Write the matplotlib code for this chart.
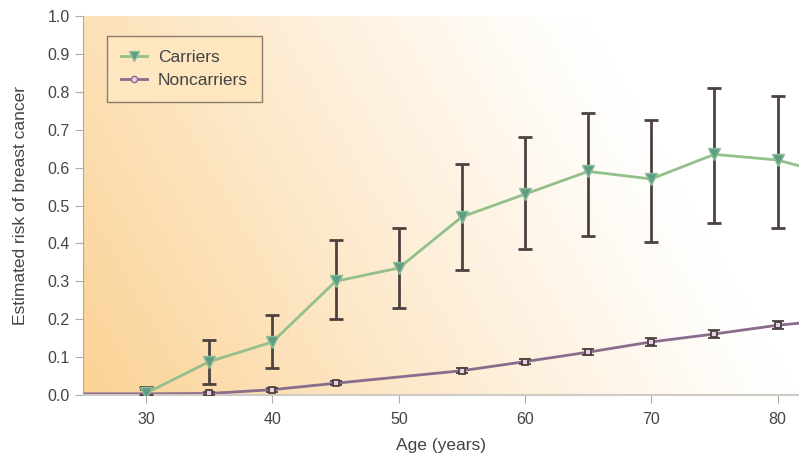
import matplotlib.pyplot as plt
import numpy as np
from matplotlib.lines import Line2D

plt.rcParams['font.family'] = ['Liberation Sans', 'DejaVu Sans']

# Carriers
carrier_age = [30, 35, 40, 45, 50, 55, 60, 65, 70, 75, 80, 85]
carrier_risk = [0.005, 0.088, 0.14, 0.30, 0.335, 0.47, 0.53, 0.59, 0.57, 0.635, 0.62, 0.575]
carrier_low = [0.0, 0.03, 0.07, 0.20, 0.23, 0.33, 0.385, 0.42, 0.405, 0.455, 0.44, 0.40]
carrier_high = [0.02, 0.145, 0.21, 0.41, 0.44, 0.61, 0.68, 0.745, 0.725, 0.81, 0.79, 0.75]

# Noncarriers
non_age = [30, 35, 40, 45, 55, 60, 65, 70, 75, 80, 85]
non_risk = [0.003, 0.004, 0.014, 0.031, 0.064, 0.088, 0.113, 0.14, 0.161, 0.184, 0.20]
non_err = [0.01, 0.004, 0.005, 0.005, 0.006, 0.007, 0.008, 0.01, 0.01, 0.01, 0.01]
line_start_age = 25
line_start_risk = 0.003

fig = plt.figure(figsize=(7.99, 4.58), dpi=100)
ax = fig.add_axes([0.104, 0.1376, 0.896, 0.8274])
ax.set_xlim(25, 81.7)
ax.set_ylim(0, 1.0)

# background: peach on the left fading smoothly to white on the right
gx, gy = np.meshgrid(np.linspace(0, 1, 300), np.linspace(0, 1, 200))
f = np.clip(1.0 - gx * 1.0 - gy * 0.3, 0, 1) ** 1.15
orange = np.array([251, 210, 148]) / 255
white = np.array([1.0, 1.0, 1.0])
img = white[None, None, :] + (orange - white)[None, None, :] * f[:, :, None]
ax.imshow(img, extent=[0, 1, 0, 1], transform=ax.transAxes, origin='lower',
          aspect='auto', zorder=0, interpolation='bilinear')

err_c = '#4d4240'
# noncarriers
ax.plot([line_start_age] + non_age, [line_start_risk] + non_risk,
        color='#8a6c8c', lw=2, zorder=2)
ax.errorbar(non_age, non_risk, yerr=non_err, fmt='s', ms=5,
            mfc='#e8d0e4', mec='#4d4240', mew=1.3, ecolor=err_c,
            elinewidth=1.5, capsize=4, capthick=2, zorder=3)

# carriers
c_low = np.array(carrier_risk) - np.array(carrier_low)
c_high = np.array(carrier_high) - np.array(carrier_risk)
ax.errorbar(carrier_age, carrier_risk, yerr=[c_low, c_high], fmt='none',
            ecolor=err_c, elinewidth=2, capsize=5, capthick=2, zorder=4)
ax.plot(carrier_age, carrier_risk, color='#93c08a', lw=2, zorder=5)
ax.plot(carrier_age, carrier_risk, 'v', ms=9, mfc='#5f9c84',
        mec='#8fbf99', mew=1, zorder=6)

# legend
handles = [
    Line2D([], [], color='#93c08a', lw=2, marker='v', ms=7, mfc='#5f9c84', mec='#8fbf99'),
    Line2D([], [], color='#8a6c8c', lw=2, marker='o', ms=4.5, mfc='#e8d0e4', mec='#8a6c8c'),
]
leg = ax.legend(handles, ['Carriers', 'Noncarriers'], loc='upper left',
                bbox_to_anchor=(0.034, 0.948), frameon=True, fancybox=False,
                fontsize=12.5, handlelength=1.5, borderpad=0.8, labelspacing=0.45,
                handletextpad=0.6, borderaxespad=0, labelcolor='#444444')
leg.get_frame().set_facecolor('#fde6c0')
leg.get_frame().set_edgecolor('#8c7c6c')
leg.get_frame().set_linewidth(1.0)
leg.get_frame().set_alpha(1)

for s in ['top', 'right']:
    ax.spines[s].set_visible(False)
ax.spines['left'].set_color('#b0aaa4')
ax.spines['bottom'].set_color('#d0cac4')
ax.spines['bottom'].set_linewidth(1.5)

ax.set_xticks([30, 40, 50, 60, 70, 80])
ax.set_yticks(np.arange(0, 1.01, 0.1))
ax.set_yticklabels([f'{v:.1f}' for v in np.arange(0, 1.01, 0.1)])
ax.tick_params(axis='both', colors='#b0aaa4', labelcolor='#444444',
               labelsize=11.5, length=6)
ax.tick_params(axis='x', pad=6)

ax.set_xlabel('Age (years)', fontsize=12.5, color='#444444', labelpad=8)
ax.set_ylabel('Estimated risk of breast cancer', fontsize=12.5, color='#444444', labelpad=14)

plt.savefig('out.png', dpi=100)
